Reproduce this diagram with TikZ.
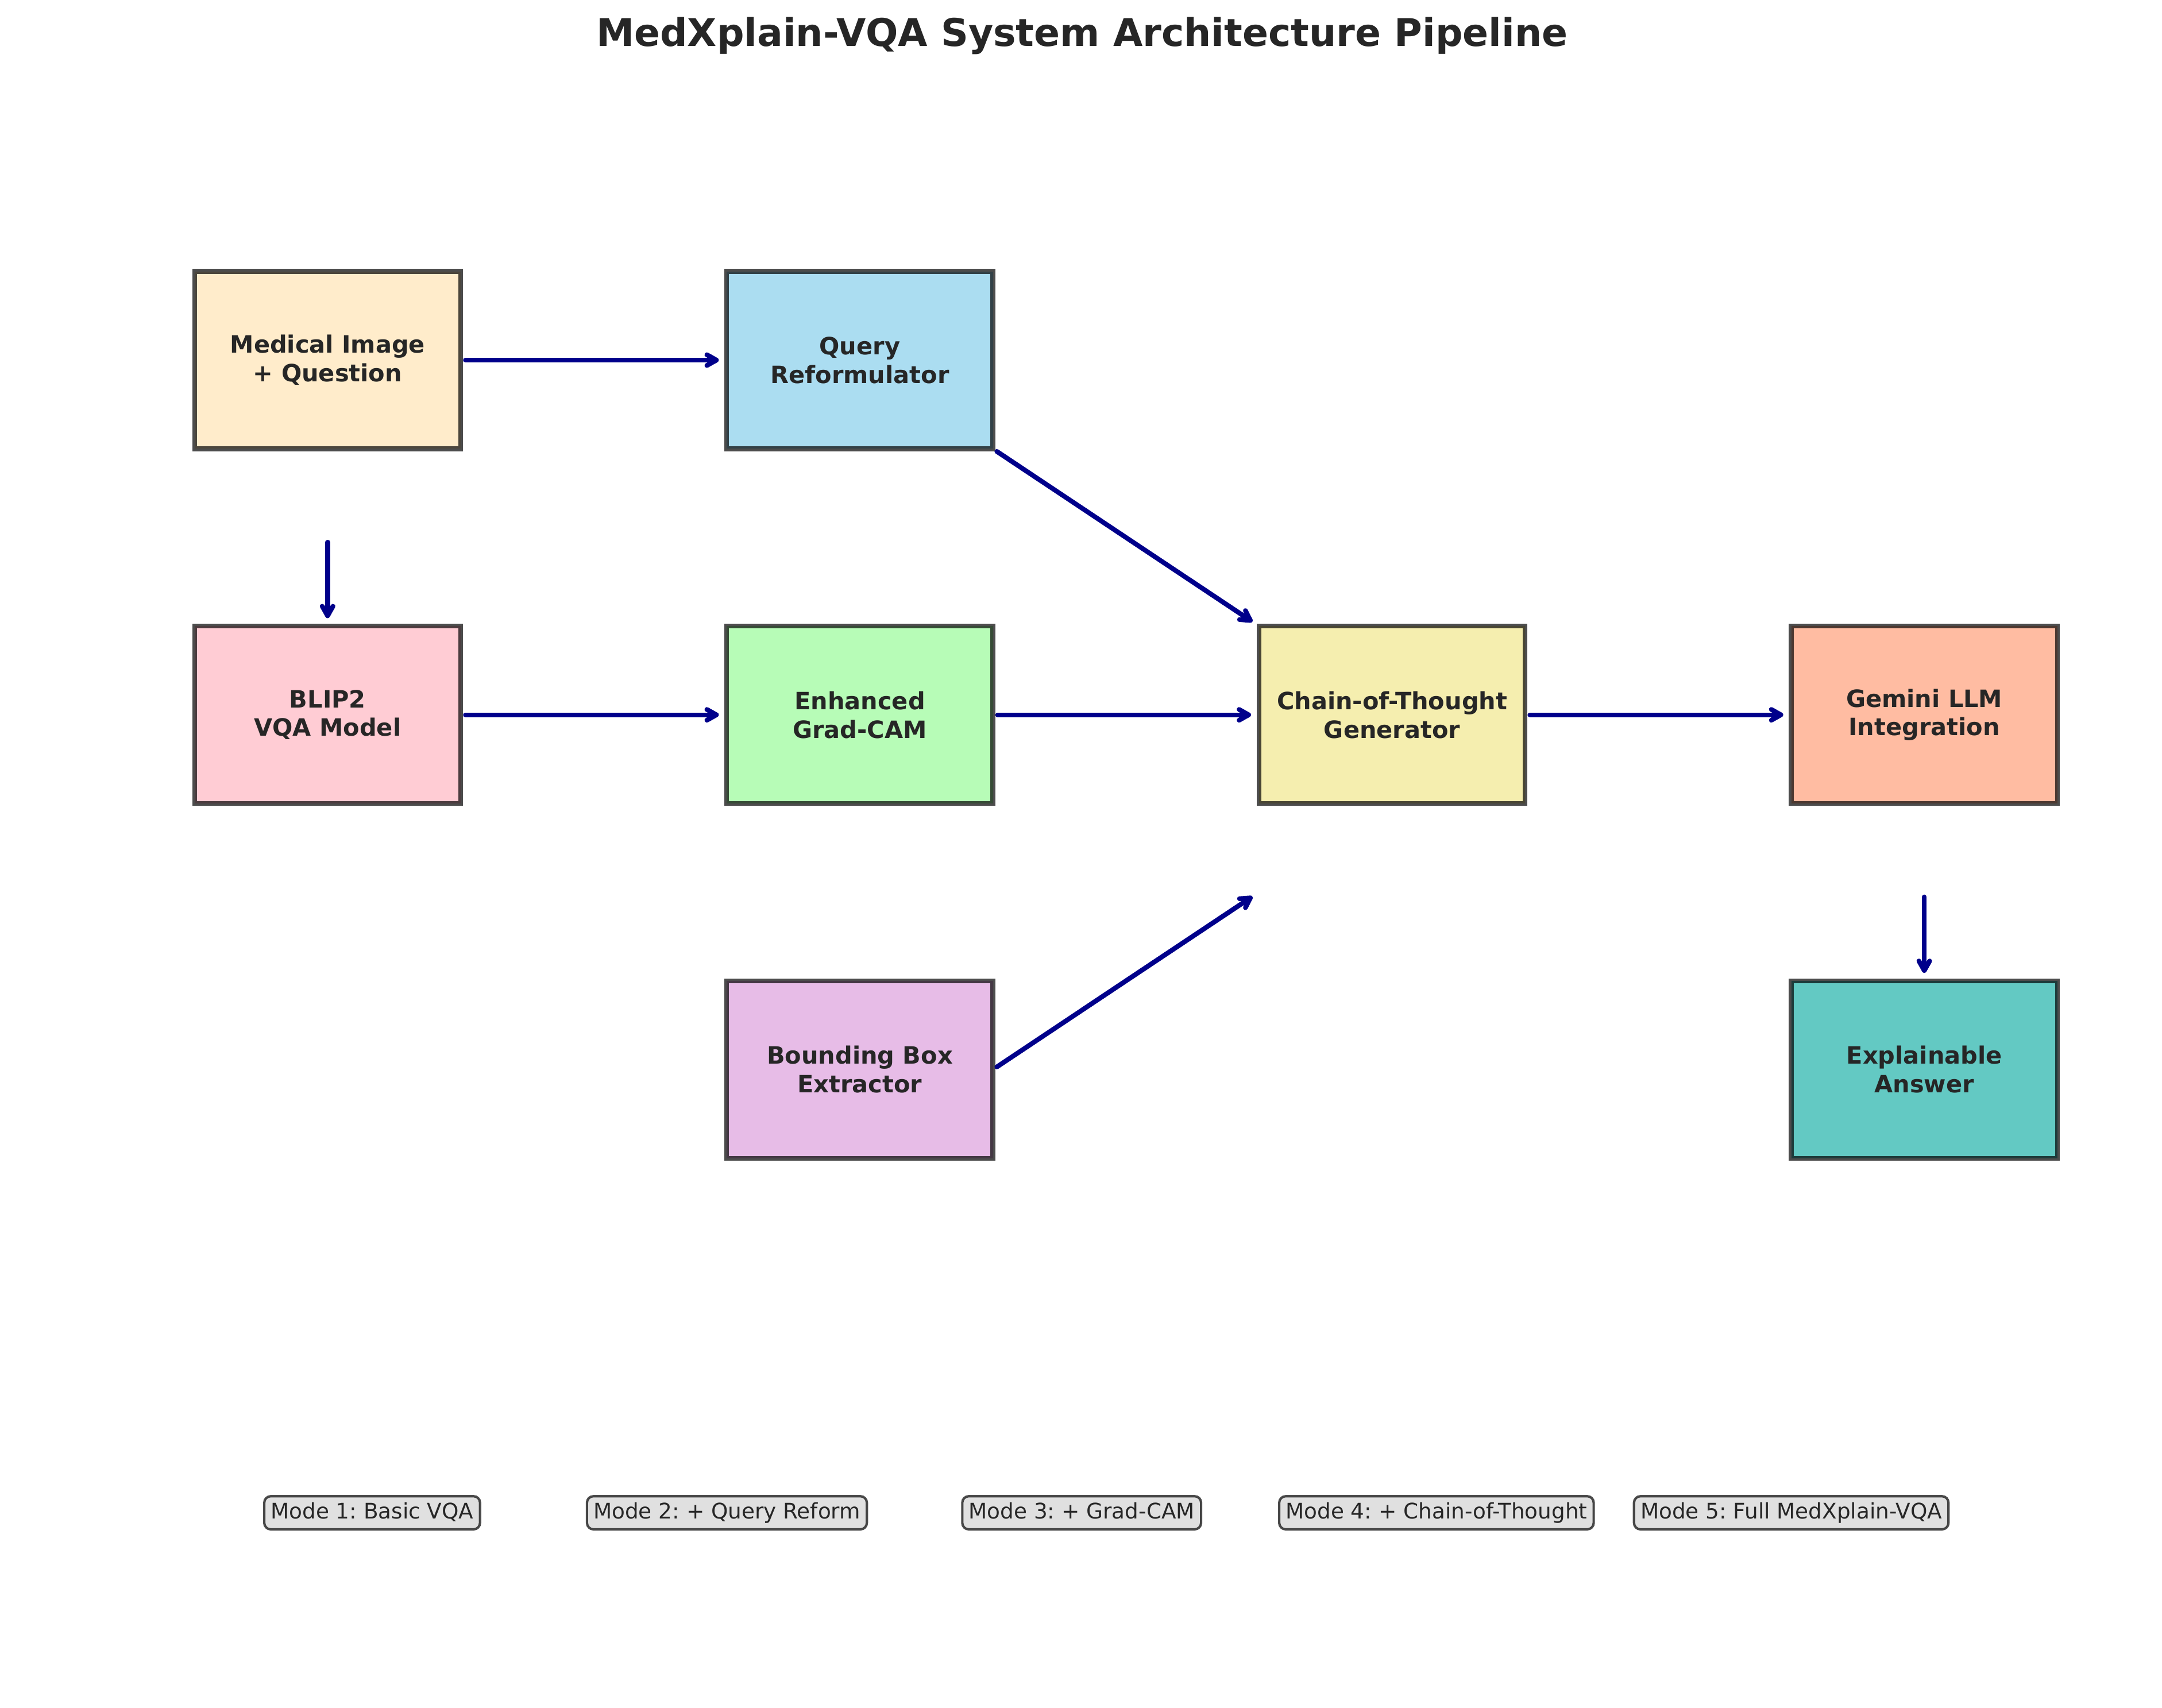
\documentclass[tikz,border=0pt]{standalone}
\usepackage{fontspec}
\setmainfont{DejaVu Sans}
\usetikzlibrary{arrows.meta,calc}
\frenchspacing
\definecolor{txt}{HTML}{262626}
\definecolor{cMed}{HTML}{FFECCB}
\definecolor{cQry}{HTML}{ABDDF1}
\definecolor{cBlip}{HTML}{FFCCD4}
\definecolor{cGrad}{HTML}{B7FCB7}
\definecolor{cCot}{HTML}{F5EEAF}
\definecolor{cGem}{HTML}{FFBCA2}
\definecolor{cBbx}{HTML}{E7BCE7}
\definecolor{cAns}{HTML}{63C9C3}
\definecolor{arrowblue}{HTML}{00008B}
\definecolor{modefill}{HTML}{E0E0E0}
\begin{document}
\begin{tikzpicture}[x=0.20325mm,y=-0.20325mm,
  stage/.style={rectangle, draw=black, draw opacity=0.7, line width=2pt,
    minimum width=39.227mm, minimum height=26.148mm, outer sep=0pt, inner sep=0pt,
    text=txt, font=\bfseries\fontsize{10}{12}\selectfont, align=center},
  arr/.style={draw=arrowblue, line width=2pt, line cap=round,
    -{Straight Barb[length=4pt,width=4.5pt,round]},
    shorten <=2pt, shorten >=3.35pt},
  mode/.style={rectangle, rounded corners=2.7pt, draw=black, draw opacity=0.7,
    line width=1pt, fill=modefill, inner sep=2.7pt, text height=6.7pt,
    text depth=1.8pt, font=\fontsize{9}{10.8}\selectfont\frenchspacing, text=txt}]
\useasboundingbox (0,0) rectangle (1568,1238.5);

\node[font=\bfseries\fontsize{16}{19}\selectfont, text=txt, anchor=base] (title)
  at (784.8,33.7) {MedXplain-VQA System Architecture Pipeline};

\node[stage, fill=cMed]  (med)  at (237.6,261.2)  {Medical Image\\+ Question};
\node[stage, fill=cQry]  (qry)  at (623.6,261.2)  {Query\\Reformulator};
\node[stage, fill=cBlip] (blip) at (237.6,518.5)  {BLIP2\\VQA Model};
\node[stage, fill=cGrad] (grad) at (623.6,518.5)  {Enhanced\\Grad-CAM};
\node[stage, fill=cCot]  (cot)  at (1009.6,518.5) {Chain-of-Thought\\Generator};
\node[stage, fill=cGem]  (gem)  at (1395.6,518.5) {Gemini LLM\\Integration};
\node[stage, fill=cBbx]  (bbx)  at (623.6,775.8)  {Bounding Box\\Extractor};
\node[stage, fill=cAns]  (ans)  at (1395.6,775.8) {Explainable\\Answer};

\coordinate (medgap) at ($(med.south)+(0,64.3)$);
\coordinate (gemgap) at ($(gem.south)+(0,64.3)$);
\coordinate (cotlow) at ($(cot.south west)+(0,64.3)$);

\draw[arr] (med.east) -- (qry.west);
\draw[arr] (medgap) -- (blip.north);
\draw[arr] (qry.south east) -- (cot.north west);
\draw[arr] (blip.east) -- (grad.west);
\draw[arr] (grad.east) -- (cot.west);
\draw[arr] (cot.east) -- (gem.west);
\draw[arr] (bbx.east) -- (cotlow);
\draw[arr] (gemgap) -- (ans.north);

\node[mode] (m1) at (269.9,1097.3)  {Mode 1: Basic VQA};
\node[mode] (m2) at (527.2,1097.3)  {Mode 2: + Query Reform};
\node[mode] (m3) at (784.5,1097.3)  {Mode 3: + Grad-CAM};
\node[mode] (m4) at (1041.8,1097.3) {Mode 4: + Chain-of-Thought};
\node[mode] (m5) at (1299.1,1097.3) {Mode 5: Full MedXplain-VQA};
\end{tikzpicture}
\end{document}
